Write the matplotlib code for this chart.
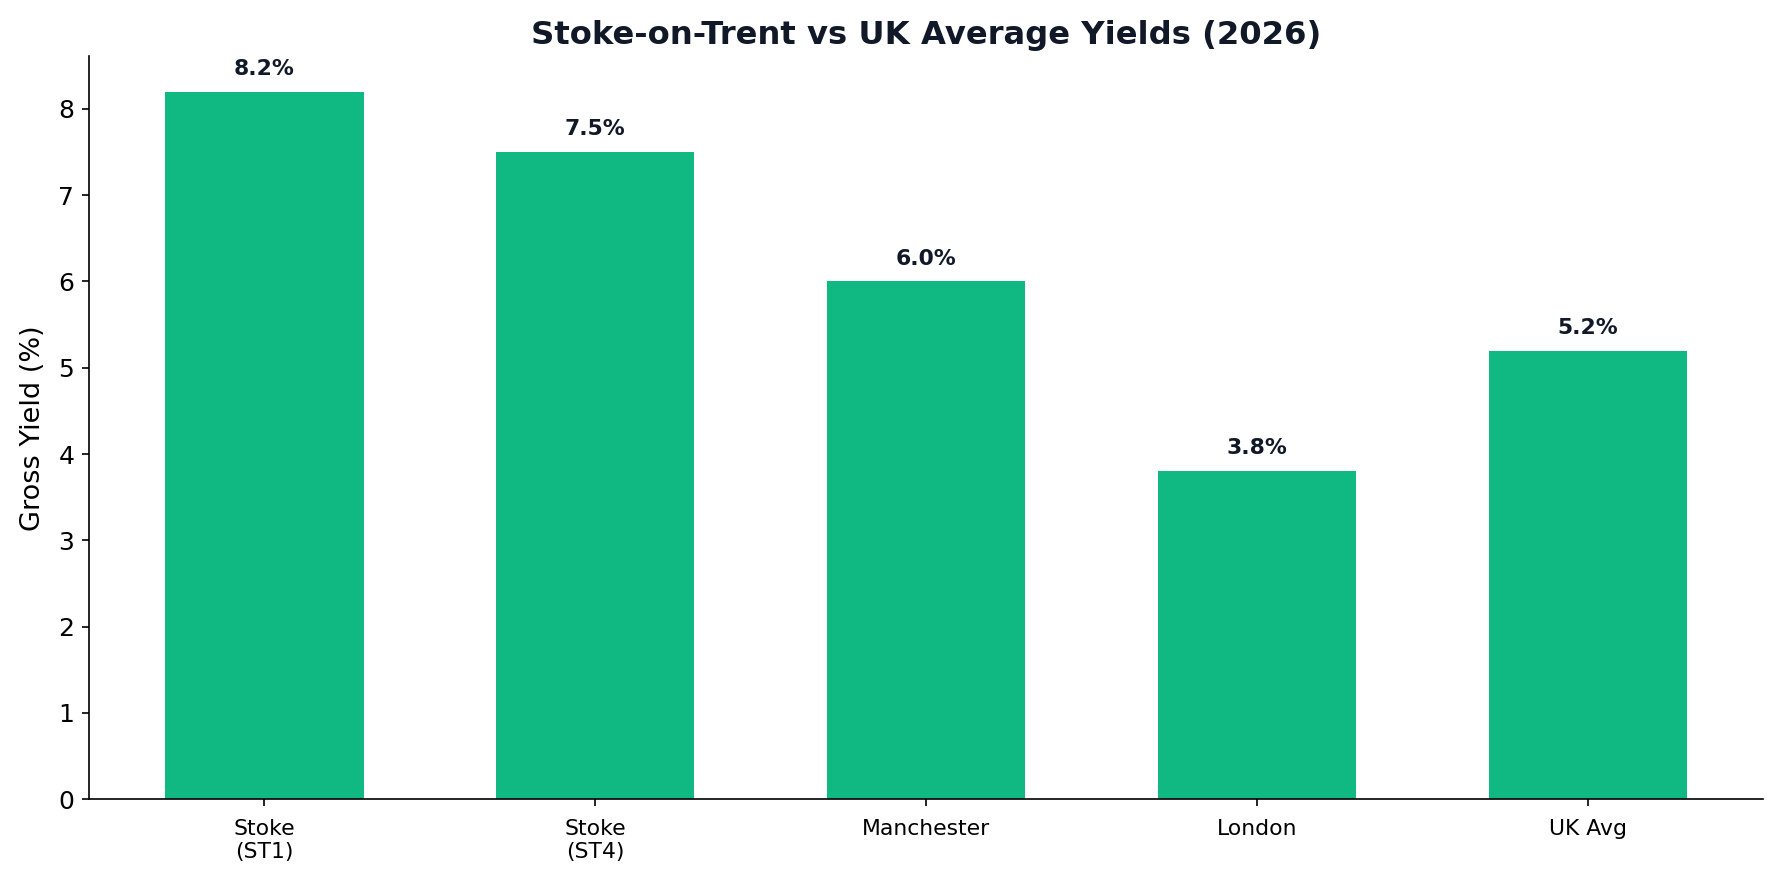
import matplotlib
matplotlib.use("Agg")
import matplotlib.pyplot as plt

categories = ["Stoke\n(ST1)", "Stoke\n(ST4)", "Manchester", "London", "UK Avg"]
yields = [8.2, 7.5, 6.0, 3.8, 5.2]

fig, ax = plt.subplots(figsize=(1783 / 150, 882 / 150), dpi=150)
x = range(len(categories))
bars = ax.bar(x, yields, width=0.6, color="#10B981")
for b, v in zip(bars, yields):
    ax.text(b.get_x() + b.get_width() / 2, v + 0.15, f"{v:.1f}%", ha="center", va="bottom",
            fontsize=10.5, fontweight="bold", color="#111827")
ax.set_xticks(list(x))
ax.set_xticklabels(categories, fontsize=10.5)
ax.tick_params(axis="x", pad=6)
ax.tick_params(axis="y", labelsize=12)
ax.set_ylabel("Gross Yield (%)", fontsize=13, labelpad=6)
ax.set_title("Stoke-on-Trent vs UK Average Yields (2026)", fontsize=15.5, fontweight="bold",
             color="#111827", pad=6)
ax.spines["top"].set_visible(False)
ax.spines["right"].set_visible(False)
plt.tight_layout(pad=0.95)
fig.savefig("out.png", dpi=150)
